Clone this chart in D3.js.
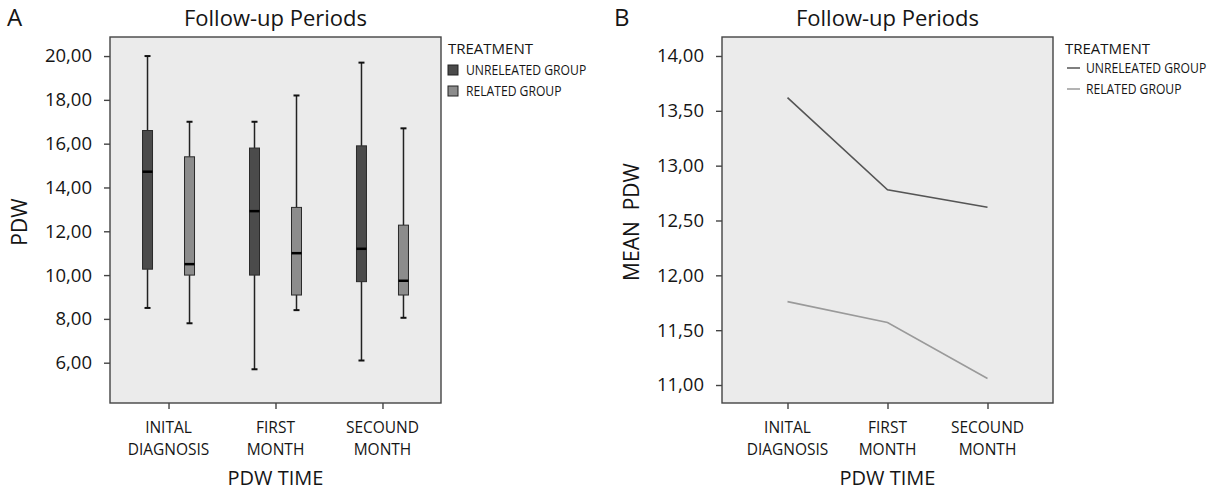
<!DOCTYPE html>
<html><head><meta charset="utf-8">
<script src="https://cdn.jsdelivr.net/npm/d3@7"></script>
<style>
html,body{margin:0;padding:0;background:#fff;}
text{font-family:"Open Sans","Noto Sans",sans-serif;fill:#151515;}
</style></head>
<body><svg id="c" width="1216" height="492"></svg>
<script>
// ---- data ----
const categories = ["INITAL DIAGNOSIS", "FIRST MONTH", "SECOUND MONTH"];
const groups = ["UNRELEATED GROUP", "RELATED GROUP"];
const unrelatedLow    = [8.5, 5.7, 6.1];
const unrelatedQ1     = [10.27, 10.0, 9.7];
const unrelatedMedian = [14.72, 12.92, 11.2];
const unrelatedQ3     = [16.6, 15.8, 15.9];
const unrelatedHigh   = [20.0, 17.0, 19.7];
const relatedLow      = [7.8, 8.4, 8.05];
const relatedQ1       = [10.0, 9.09, 9.09];
const relatedMedian   = [10.5, 11.0, 9.74];
const relatedQ3       = [15.4, 13.09, 12.28];
const relatedHigh     = [17.0, 18.2, 16.7];
const unrelatedMean   = [13.62, 12.78, 12.62];
const relatedMean     = [11.76, 11.57, 11.06];
const boxTicks  = [6, 8, 10, 12, 14, 16, 18, 20];
const meanTicks = [11, 11.5, 12, 12.5, 13, 13.5, 14];

// ---- styles ----
const plotBg = "#ebebeb", frameCol = "#444444";
const boxFill = {"UNRELEATED GROUP": "#4b4b4b", "RELATED GROUP": "#8c8c8c"};
const lineCol = {"UNRELEATED GROUP": "#555555", "RELATED GROUP": "#9a9a9a"};
const fmt = v => d3.format(".2f")(v).replace(".", ",");

const svg = d3.select("#c");
const plotTop = 37, plotBottom = 403;

function panel(letter, left, right, yDomain, ticks, xPad, yLabel, letterX) {
  const g = svg.append("g");
  const x = d3.scalePoint().domain(categories).range([left, right]).padding(xPad);
  const y = d3.scaleLinear().domain(yDomain).range([plotBottom, plotTop]);
  g.append("rect").attr("x", left).attr("y", plotTop).attr("width", right - left).attr("height", plotBottom - plotTop)
    .attr("fill", plotBg).attr("stroke", frameCol).attr("stroke-width", 1.4);
  const ya = g.append("g").attr("transform", `translate(${left},0)`)
    .call(d3.axisLeft(y).tickValues(ticks).tickFormat(fmt).tickSize(6).tickPadding(12));
  ya.select(".domain").remove();
  ya.selectAll("line").attr("stroke", frameCol).attr("stroke-width", 1.4);
  ya.selectAll("text").style("font-size", "18.5px").attr("fill", "#151515");
  const xa = g.append("g").attr("transform", `translate(0,${plotBottom})`)
    .call(d3.axisBottom(x).tickSize(6).tickFormat(""));
  xa.select(".domain").remove();
  xa.selectAll("line").attr("stroke", frameCol).attr("stroke-width", 1.4);
  categories.forEach(c => {
    c.split(" ").forEach((w, i) => g.append("text").attr("text-anchor", "middle")
      .style("font-size", "15.5px").attr("x", x(c)).attr("y", 433 + i * 21.5).text(w));
  });
  g.append("text").attr("x", (left + right) / 2).attr("y", 485).attr("text-anchor", "middle")
    .style("font-size", "20px").text("PDW TIME");
  g.append("text").attr("x", (left + right) / 2).attr("y", 26).attr("text-anchor", "middle")
    .style("font-size", "22px").text("Follow-up Periods");
  g.append("text").attr("transform", `translate(${left - 83},222) rotate(-90)`).attr("text-anchor", "middle")
    .style("font-size", "21px").style("white-space", "pre").text(yLabel);
  g.append("text").attr("x", letterX).attr("y", 26).style("font-size", "24px").text(letter);
  return {g, x, y};
}

// ---- Panel A: box plot ----
const A = panel("A", 110, 441, [4.16, 20.87], boxTicks, 0.547, "PDW", 7);
const inner = d3.scalePoint().domain(groups).range([-21, 21]);
const stats = {
  "UNRELEATED GROUP": {lo: unrelatedLow, q1: unrelatedQ1, md: unrelatedMedian, q3: unrelatedQ3, hi: unrelatedHigh},
  "RELATED GROUP":    {lo: relatedLow, q1: relatedQ1, md: relatedMedian, q3: relatedQ3, hi: relatedHigh}
};
const bw = 10, cap = 3;
groups.forEach(gr => {
  const s = stats[gr];
  categories.forEach((c, i) => {
    const cx = A.x(c) + inner(gr);
    const gg = A.g.append("g");
    gg.append("line").attr("x1", cx).attr("x2", cx).attr("y1", A.y(s.hi[i])).attr("y2", A.y(s.q3[i]))
      .attr("stroke", "#222").attr("stroke-width", 1.5);
    gg.append("line").attr("x1", cx).attr("x2", cx).attr("y1", A.y(s.q1[i])).attr("y2", A.y(s.lo[i]))
      .attr("stroke", "#222").attr("stroke-width", 1.5);
    [s.hi[i], s.lo[i]].forEach(v => gg.append("line").attr("x1", cx - cap).attr("x2", cx + cap)
      .attr("y1", A.y(v)).attr("y2", A.y(v)).attr("stroke", "#111").attr("stroke-width", 2));
    gg.append("rect").attr("x", cx - bw / 2).attr("width", bw).attr("y", A.y(s.q3[i]))
      .attr("height", A.y(s.q1[i]) - A.y(s.q3[i])).attr("fill", boxFill[gr])
      .attr("stroke", "#2a2a2a").attr("stroke-width", 1);
    gg.append("line").attr("x1", cx - bw / 2).attr("x2", cx + bw / 2).attr("y1", A.y(s.md[i])).attr("y2", A.y(s.md[i]))
      .attr("stroke", "#000").attr("stroke-width", 2.5);
  });
});
// legend A
const legA = svg.append("g");
legA.append("text").attr("x", 448).attr("y", 54).style("font-size", "15px").text("TREATMENT");
groups.forEach((gr, i) => {
  legA.append("rect").attr("x", 448).attr("y", 65 + i * 21).attr("width", 10).attr("height", 10)
    .attr("fill", boxFill[gr]).attr("stroke", "#222").attr("stroke-width", 1);
  legA.append("text").attr("transform", `translate(466,${75 + i * 21}) scale(0.81,1)`)
    .style("font-size", "15px").text(gr);
});

// ---- Panel B: means ----
const B = panel("B", 722, 1053, [10.836, 14.173], meanTicks, 0.655, "MEAN  PDW", 614);
const means = {"UNRELEATED GROUP": unrelatedMean, "RELATED GROUP": relatedMean};
const line = d3.line().x((d, i) => B.x(categories[i])).y(d => B.y(d));
groups.forEach(gr => {
  B.g.append("path").attr("d", line(means[gr])).attr("fill", "none")
    .attr("stroke", lineCol[gr]).attr("stroke-width", 1.6);
});
const legB = svg.append("g");
legB.append("text").attr("x", 1065).attr("y", 54).style("font-size", "15px").text("TREATMENT");
groups.forEach((gr, i) => {
  legB.append("line").attr("x1", 1067).attr("x2", 1080).attr("y1", 68 + i * 21).attr("y2", 68 + i * 21)
    .attr("stroke", lineCol[gr]).attr("stroke-width", 1.5);
  legB.append("text").attr("transform", `translate(1086,${73 + i * 21}) scale(0.81,1)`)
    .style("font-size", "15px").text(gr);
});
</script></body></html>
